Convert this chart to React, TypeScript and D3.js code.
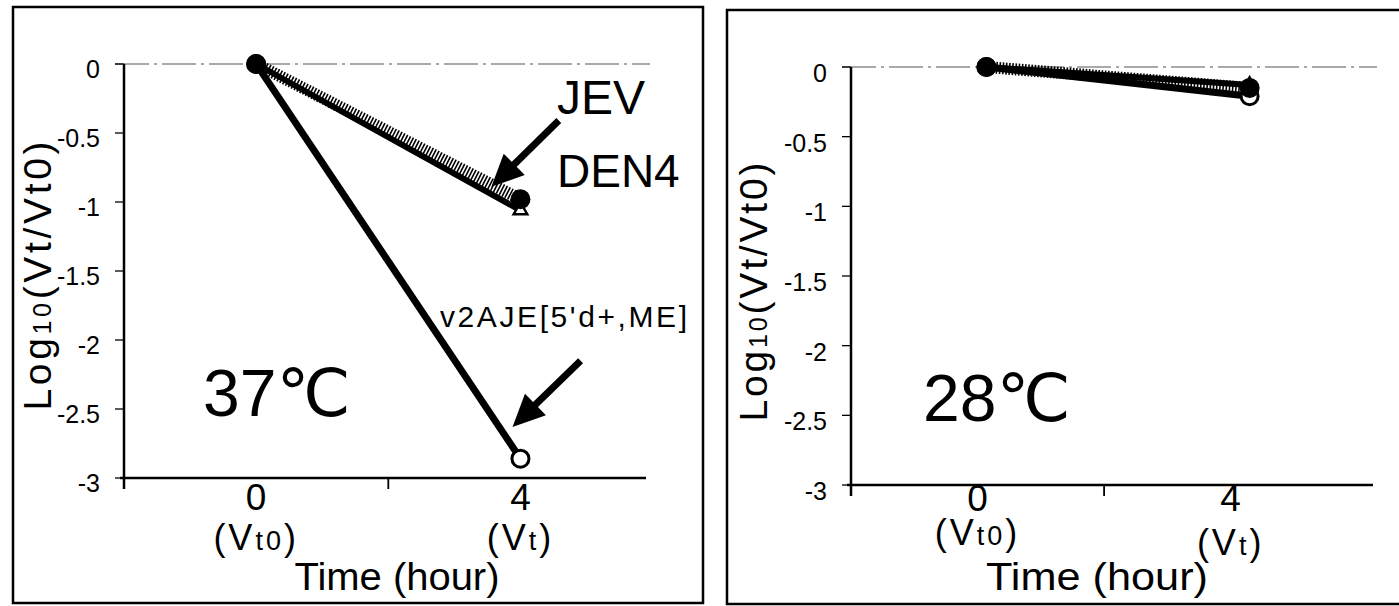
import { useEffect, useRef } from 'react';
import * as d3 from 'd3';

// time points (hour)
const hours = [0, 4];
// 28 C panel: markers sit slightly right of the tick labels
const hours28 = [0.14, 4.3];

// Log10(Vt/Vt0) at 37 C
const filled37 = [0, -0.98];
const triangle37 = [0, -1.06];
const open37 = [0, -2.86];

// Log10(Vt/Vt0) at 28 C
const filled28 = [0, -0.15];
const triangle28 = [0, -0.13];
const open28 = [0, -0.21];

const yTicks = [0, -0.5, -1, -1.5, -2, -2.5, -3];
const yTickLabels = ['0', '-0.5', '-1', '-1.5', '-2', '-2.5', '-3'];
const xTickLabels = ['0', '4'];

// arrows in data coordinates [x1, y1, x2, y2]
const arrowJev = [4.58, -0.41, 3.56, -0.89];
const arrowV2 = [4.91, -2.15, 3.88, -2.63];

const FONT = "'Liberation Sans', Arial, 'DejaVu Sans', sans-serif";

interface PanelOpts {
  box: [number, number, number, number];
  xRange: [number, number];
  xDomain: [number, number];
  yRange: [number, number];
  times: number[];
  filled: number[];
  triangle: number[];
  open: number[];
  temp: string;
  tempPos: [number, number];
  yLabelPos: [number, number];
  yLabelLen: number;
  timePos: [number, number];
  timeLen: number;
  xTickDy: number;
  vtDy: number;
  vt0Dy: number;
  tickDy: number;
}

const App = () => {
  const ref = useRef<SVGSVGElement | null>(null);

  useEffect(() => {
    if (!ref.current) return;
    const svg = d3.select(ref.current);
    svg.selectAll('*').remove();

    const width = 1399;
    const height = 606;
    svg.attr('width', width).attr('height', height);

    svg.append('rect').attr('width', width).attr('height', height).attr('fill', '#fff');

    const drawPanel = (o: PanelOpts) => {
      const g = svg.append('g');
      const [bx0, by0, bx1, by1] = o.box;
      g.append('rect')
        .attr('x', bx0).attr('y', by0)
        .attr('width', bx1 - bx0).attr('height', by1 - by0)
        .attr('fill', 'none').attr('stroke', '#000').attr('stroke-width', 2.5);

      const x = d3.scaleLinear().domain(o.xDomain).range(o.xRange);
      const y = d3.scaleLinear().domain([0, -3]).range(o.yRange);
      const ax = o.xRange[0];
      const ay = y(-3);

      // dashed zero line
      g.append('line')
        .attr('x1', ax - 9).attr('x2', o.xRange[1] + 4)
        .attr('y1', y(0)).attr('y2', y(0))
        .attr('stroke', '#555').attr('stroke-width', 1.2)
        .attr('stroke-dasharray', '34,5,3,5');

      // y axis
      g.append('line')
        .attr('x1', ax).attr('x2', ax)
        .attr('y1', y(0)).attr('y2', ay + 11)
        .attr('stroke', '#000').attr('stroke-width', 2.5);
      g.selectAll('.ytick').data(yTicks).enter().append('line')
        .attr('x1', ax - 9).attr('x2', ax)
        .attr('y1', d => y(d)).attr('y2', d => y(d))
        .attr('stroke', '#000').attr('stroke-width', 1.3);
      g.selectAll('.ylab').data(yTicks).enter().append('text')
        .attr('x', ax - 24)
        .attr('y', d => y(d) + o.tickDy)
        .attr('text-anchor', 'end')
        .style('font-family', FONT)
        .style('font-size', '25px')
        .text((_d, i) => yTickLabels[i]);

      // x axis
      g.append('line')
        .attr('x1', ax - 4).attr('x2', o.xRange[1])
        .attr('y1', ay).attr('y2', ay)
        .attr('stroke', '#000').attr('stroke-width', 2.5);
      g.append('line')
        .attr('x1', x(2)).attr('x2', x(2))
        .attr('y1', ay).attr('y2', ay + 11)
        .attr('stroke', '#000').attr('stroke-width', 1.8);
      g.selectAll('.xlab').data(hours).enter().append('text')
        .attr('x', d => x(d))
        .attr('y', ay + o.xTickDy)
        .attr('text-anchor', 'middle')
        .style('font-family', FONT)
        .style('font-size', '37px')
        .text((_d, i) => xTickLabels[i]);

      // (Vt0) and (Vt)
      const vt0 = g.append('text')
        .attr('x', x(0)).attr('y', ay + o.vt0Dy)
        .attr('text-anchor', 'middle')
        .style('font-family', FONT).style('font-size', '36px')
        .style('letter-spacing', '3px');
      vt0.append('tspan').text('(V');
      vt0.append('tspan').style('font-size', '27px').text('t0');
      vt0.append('tspan').text(')');
      const vt = g.append('text')
        .attr('x', x(4)).attr('y', ay + o.vtDy)
        .attr('text-anchor', 'middle')
        .style('font-family', FONT).style('font-size', '36px')
        .style('letter-spacing', '3px');
      vt.append('tspan').text('(V');
      vt.append('tspan').style('font-size', '27px').text('t');
      vt.append('tspan').text(')');

      g.append('text')
        .attr('x', o.timePos[0]).attr('y', o.timePos[1])
        .attr('text-anchor', 'middle')
        .attr('textLength', o.timeLen)
        .attr('lengthAdjust', 'spacingAndGlyphs')
        .style('font-family', FONT).style('font-size', '38px')
        .text('Time (hour)');

      // y axis title
      const yl = g.append('text')
        .attr('transform', `translate(${o.yLabelPos[0]},${o.yLabelPos[1]}) rotate(-90)`)
        .attr('text-anchor', 'middle')
        .attr('textLength', o.yLabelLen)
        .attr('lengthAdjust', 'spacing')
        .style('font-family', FONT).style('font-size', '39px');
      yl.append('tspan').text('Log');
      yl.append('tspan').style('font-size', '25px').text('10');
      yl.append('tspan').text('(Vt/Vt0)');

      g.append('text')
        .attr('x', o.tempPos[0]).attr('y', o.tempPos[1])
        .style('font-family', FONT).style('font-size', '66px')
        .text(o.temp);

      const line = (vals: number[]) =>
        d3.line<number>().x((_d, i) => x(o.times[i])).y(d => y(d))(vals);

      // lines
      g.append('path').attr('d', line(o.open)).attr('fill', 'none')
        .attr('stroke', '#000').attr('stroke-width', 7);
      g.append('path').attr('d', line(o.filled)).attr('fill', 'none')
        .attr('stroke', '#000').attr('stroke-width', 12)
        .attr('stroke-dasharray', '1.6,1.6');
      g.append('path').attr('d', line(o.triangle)).attr('fill', 'none')
        .attr('stroke', '#000').attr('stroke-width', 6);

      // markers
      g.selectAll('.oc').data(o.open).enter().append('circle')
        .attr('cx', (_d, i) => x(o.times[i])).attr('cy', d => y(d))
        .attr('r', 8.5).attr('fill', '#fff')
        .attr('stroke', '#000').attr('stroke-width', 3);
      g.selectAll('.tri').data(o.triangle).enter().append('path')
        .attr('transform', (d, i) => `translate(${x(o.times[i])},${y(d)})`)
        .attr('d', d3.symbol().type(d3.symbolTriangle).size(80)())
        .attr('fill', '#fff').attr('stroke', '#000').attr('stroke-width', 2.5);
      g.selectAll('.fc').data(o.filled).enter().append('circle')
        .attr('cx', (_d, i) => x(o.times[i])).attr('cy', d => y(d))
        .attr('r', 10).attr('fill', '#000');

      return { x, y };
    };

    const left = drawPanel({
      box: [13, 7, 703, 603],
      xRange: [124, 646],
      xDomain: [-2, 5.9],
      yRange: [64, 478],
      times: hours,
      filled: filled37,
      triangle: triangle37,
      open: open37,
      temp: '37℃',
      tempPos: [203, 416],
      yLabelPos: [51, 276],
      yLabelLen: 269,
      timePos: [397, 590],
      timeLen: 205,
      xTickDy: 32,
      vtDy: 72,
      vt0Dy: 72,
      tickDy: 14,
    });

    drawPanel({
      box: [727, 10, 1402, 604],
      xRange: [851, 1373],
      xDomain: [-2, 6.25],
      yRange: [67, 485],
      times: hours28,
      filled: filled28,
      triangle: triangle28,
      open: open28,
      temp: '28℃',
      tempPos: [923, 421],
      yLabelPos: [767, 292],
      yLabelLen: 259,
      timePos: [1097, 590],
      timeLen: 222,
      xTickDy: 26,
      vtDy: 70,
      vt0Dy: 60,
      tickDy: 15,
    });

    // annotations on the 37 C panel
    svg.append('text').attr('x', 557).attr('y', 114)
      .style('font-family', FONT).style('font-size', '48px').text('JEV');
    svg.append('text').attr('x', 557).attr('y', 187)
      .style('font-family', FONT).style('font-size', '46px').text('DEN4');
    svg.append('text').attr('x', 440).attr('y', 327)
      .attr('textLength', 247).attr('lengthAdjust', 'spacing')
      .style('font-family', FONT).style('font-size', '30px')
      .text("v2AJE[5'd+,ME]");

    [arrowJev, arrowV2].forEach(a => {
      const x1 = left.x(a[0]);
      const y1 = left.y(a[1]);
      const x2 = left.x(a[2]);
      const y2 = left.y(a[3]);
      const len = Math.hypot(x2 - x1, y2 - y1);
      const ux = (x2 - x1) / len;
      const uy = (y2 - y1) / len;
      const headLen = 32;
      const headHalf = 15;
      const bx = x2 - ux * headLen;
      const by = y2 - uy * headLen;
      svg.append('line')
        .attr('x1', x1).attr('y1', y1)
        .attr('x2', bx + ux * 2).attr('y2', by + uy * 2)
        .attr('stroke', '#000').attr('stroke-width', 7);
      svg.append('path')
        .attr('d', `M${x2},${y2} L${bx - uy * headHalf},${by + ux * headHalf} L${bx + uy * headHalf},${by - ux * headHalf} Z`)
        .attr('fill', '#000');
    });
  }, []);

  return (
    <svg ref={ref} style={{ position: 'absolute', left: 0, top: 0, display: 'block' }}></svg>
  );
};

export default App;
